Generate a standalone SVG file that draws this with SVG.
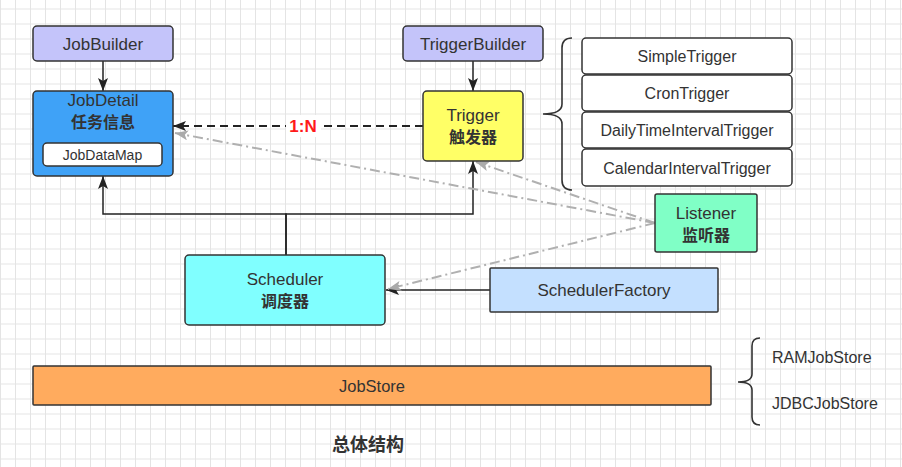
<svg xmlns="http://www.w3.org/2000/svg" width="902" height="467" viewBox="0 0 902 467">
<defs>
<pattern id="grid" width="15" height="15" patternUnits="userSpaceOnUse" x="0" y="8.5">
<path d="M0.5 0 V15 M0 0.5 H15" fill="none" stroke="#e4e4e4" stroke-width="1"/>
</pattern>
<marker id="arrB" markerUnits="userSpaceOnUse" markerWidth="14" markerHeight="11" refX="13" refY="5" orient="auto">
<path d="M0,0 L13,5 L0,10 L3,5 Z" fill="#222"/>
</marker>
<marker id="arrG" markerUnits="userSpaceOnUse" markerWidth="14" markerHeight="11" refX="13" refY="5" orient="auto">
<path d="M0,0 L13,5 L0,10 L3,5 Z" fill="#aaaaaa"/>
</marker>
</defs>
<style>
.box{stroke:#333;stroke-width:1.5}
.t{font-family:"Liberation Sans","Noto Sans CJK SC",sans-serif;fill:#333;text-anchor:middle;font-size:17px}
.c{font-family:"Noto Sans CJK SC","Liberation Sans",sans-serif;fill:#333;text-anchor:middle;font-size:16px;font-weight:bold}
.s{font-size:14px}
.m{font-size:16px}
.solid{fill:none;stroke:#222;stroke-width:1.5}
.dash{fill:none;stroke:#222;stroke-width:2;stroke-dasharray:8 5}
.gray{fill:none;stroke:#b0b0b0;stroke-width:2;stroke-dasharray:10 4 2 4}
.brace{fill:none;stroke:#333;stroke-width:1.6}
</style>
<rect width="902" height="467" fill="#ffffff"/>
<rect width="902" height="467" fill="url(#grid)"/>

<g id="connectors">
<path class="solid" d="M103,61 V91" marker-end="url(#arrB)"/>
<path class="solid" d="M473,61 V91" marker-end="url(#arrB)"/>
<path class="dash" d="M423,126 H173" marker-end="url(#arrB)"/>
<path class="solid" d="M286,255 V214 H103 V176" marker-end="url(#arrB)"/>
<path class="solid" d="M286,255 V214 H473 V161" marker-end="url(#arrB)"/>
<path class="solid" d="M490,290 H386" marker-end="url(#arrB)"/>
<path class="gray" d="M655,223 L175,133" marker-end="url(#arrG)"/>
<path class="gray" d="M655,223 L476,162" marker-end="url(#arrG)"/>
<path class="gray" d="M655,223 L388,289" marker-end="url(#arrG)"/>
<rect x="286" y="115" width="35" height="22" fill="#ffffff"/>
<text x="303" y="132" font-family="Liberation Sans, sans-serif" font-size="17" font-weight="bold" fill="#ff1a1a" text-anchor="middle">1:N</text>
</g>

<g id="JobBuilder">
<rect class="box" x="33" y="26" width="140" height="35" rx="4" fill="#c4c4fa"/>
<text class="t" x="103" y="49.5">JobBuilder</text>
</g>

<g id="JobDetail">
<rect class="box" x="33" y="91" width="140" height="85" rx="4" fill="#3fa2f7"/>
<text class="t" x="103" y="106">JobDetail</text>
<text class="c" x="103" y="127.5">任务信息</text>
<g id="JobDataMap">
<rect class="box" x="43" y="143" width="119" height="23" rx="4" fill="#ffffff"/>
<text class="t s" x="102.5" y="159.5">JobDataMap</text>
</g>
</g>

<g id="TriggerBuilder">
<rect class="box" x="403" y="26" width="140" height="35" rx="4" fill="#c4c4fa"/>
<text class="t" x="473" y="49.5">TriggerBuilder</text>
</g>

<g id="Trigger">
<rect class="box" x="423" y="91" width="100" height="70" rx="4" fill="#ffff66"/>
<text class="t" x="473" y="121">Trigger</text>
<text class="c" x="473" y="142.5">触发器</text>
</g>

<g id="TriggerTypes">
<path class="brace" d="M572,38 Q562,38 562,48 L562,104 Q562,114 543,114 Q562,114 562,124 L562,180 Q562,190 572,190"/>
<g id="SimpleTrigger">
<rect class="box" x="582" y="38" width="210" height="36" rx="4" fill="#ffffff"/>
<text class="t m" x="687" y="62">SimpleTrigger</text>
</g>
<g id="CronTrigger">
<rect class="box" x="582" y="75" width="210" height="36" rx="4" fill="#ffffff"/>
<text class="t m" x="687" y="99">CronTrigger</text>
</g>
<g id="DailyTimeIntervalTrigger">
<rect class="box" x="582" y="112" width="210" height="36" rx="4" fill="#ffffff"/>
<text class="t m" x="687" y="136">DailyTimeIntervalTrigger</text>
</g>
<g id="CalendarIntervalTrigger">
<rect class="box" x="582" y="149" width="210" height="37" rx="4" fill="#ffffff"/>
<text class="t m" x="687" y="173.5">CalendarIntervalTrigger</text>
</g>
</g>

<g id="Listener">
<rect class="box" x="655" y="194" width="102" height="58" rx="2" fill="#80ffc6"/>
<text class="t" x="706" y="219">Listener</text>
<text class="c" x="706" y="240.5">监听器</text>
</g>

<g id="Scheduler">
<rect class="box" x="185" y="255" width="200" height="70" rx="4" fill="#80ffff"/>
<text class="t" x="285" y="285">Scheduler</text>
<text class="c" x="285" y="306.5">调度器</text>
</g>

<g id="SchedulerFactory">
<rect class="box" x="490" y="268" width="228" height="44" rx="1" fill="#c4e0ff"/>
<text class="t" x="604" y="296">SchedulerFactory</text>
</g>

<g id="JobStore">
<rect class="box" x="33" y="366" width="678" height="39" rx="1" fill="#ffab5e"/>
<text class="t" x="372" y="391.5" style="font-size:16.5px">JobStore</text>
</g>

<g id="JobStoreTypes">
<path class="brace" d="M760,338 Q752,338 752,346 L752,374 Q752,382 738,382 Q752,382 752,390 L752,417 Q752,425 760,425"/>
<text class="t m" x="772" y="362.5" style="text-anchor:start">RAMJobStore</text>
<text class="t m" x="772" y="408.5" style="text-anchor:start">JDBCJobStore</text>
</g>

<text class="c" x="368" y="451" style="font-size:18px">总体结构</text>
</svg>
